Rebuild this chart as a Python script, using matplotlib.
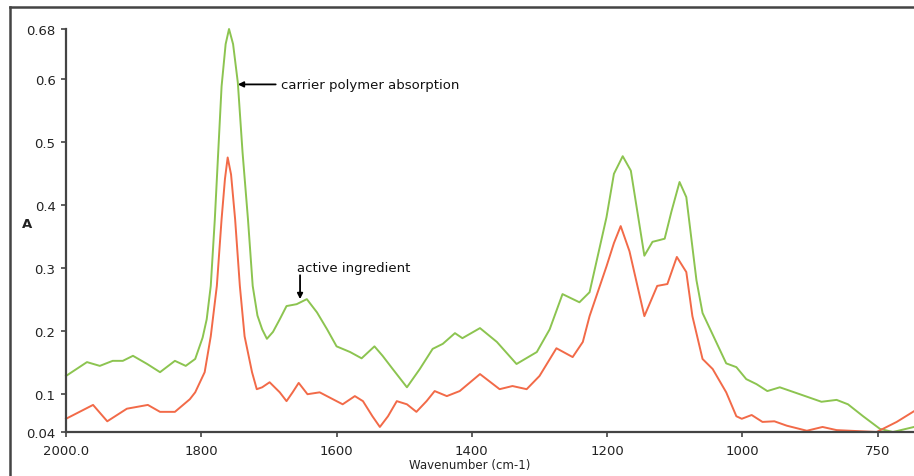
import numpy as np
import matplotlib
matplotlib.use("Agg")
import matplotlib.pyplot as plt
from matplotlib.lines import Line2D
from matplotlib.ticker import FixedLocator, NullLocator

plt.rcParams['font.family'] = ['DejaVu Sans']

# green trace (carrier + active)
green_wn = [2000, 1969, 1950, 1931, 1916, 1901, 1880, 1861, 1839, 1823, 1809,
            1798, 1792, 1786, 1780, 1775, 1770, 1764, 1759, 1753, 1746, 1739,
            1731, 1724, 1717, 1710, 1703, 1694, 1684, 1674, 1659, 1644, 1629,
            1614, 1600, 1580, 1563, 1544, 1532, 1517, 1496, 1477, 1458, 1443,
            1425, 1414, 1388, 1363, 1334, 1304, 1285, 1266, 1241, 1226, 1201,
            1190, 1177, 1165, 1145, 1133, 1122, 1115, 1105, 1093, 1083, 1068,
            1059, 1038, 1024, 1009, 993, 974, 954, 931, 894, 854, 826, 805, 777,
            746, 722, 683]
green_a = [0.129, 0.151, 0.145, 0.153, 0.153, 0.161, 0.148, 0.135, 0.153, 0.145,
           0.156, 0.190, 0.219, 0.272, 0.378, 0.484, 0.589, 0.656, 0.680, 0.656,
           0.595, 0.484, 0.378, 0.272, 0.225, 0.203, 0.188, 0.199, 0.219, 0.240,
           0.243, 0.251, 0.230, 0.203, 0.176, 0.167, 0.157, 0.176, 0.161, 0.140,
           0.111, 0.140, 0.172, 0.180, 0.197, 0.189, 0.205, 0.183, 0.148, 0.167,
           0.203, 0.259, 0.246, 0.262, 0.381, 0.450, 0.478, 0.455, 0.320, 0.342,
           0.345, 0.347, 0.390, 0.437, 0.413, 0.281, 0.229, 0.181, 0.149, 0.143,
           0.124, 0.116, 0.105, 0.111, 0.100, 0.088, 0.091, 0.084, 0.065, 0.045,
           0.040, 0.048]

# red trace
red_wn = [2000, 1960, 1939, 1910, 1879, 1861, 1839, 1817, 1809, 1795, 1786,
          1777, 1770, 1765, 1761, 1756, 1750, 1743, 1736, 1725, 1718, 1710,
          1699, 1684, 1674, 1665, 1656, 1643, 1625, 1600, 1591, 1573, 1561,
          1547, 1536, 1524, 1511, 1496, 1482, 1467, 1455, 1437, 1418, 1388,
          1359, 1340, 1319, 1300, 1275, 1251, 1236, 1226, 1201, 1190, 1180,
          1167, 1145, 1126, 1111, 1097, 1083, 1074, 1059, 1044, 1024, 1009,
          1001, 983, 963, 941, 918, 881, 852, 826, 752, 715, 683]
red_a = [0.061, 0.083, 0.057, 0.077, 0.083, 0.072, 0.072, 0.092, 0.103, 0.135,
         0.192, 0.272, 0.378, 0.442, 0.476, 0.449, 0.378, 0.272, 0.192, 0.135,
         0.108, 0.111, 0.119, 0.103, 0.089, 0.103, 0.118, 0.100, 0.103, 0.089,
         0.084, 0.097, 0.089, 0.065, 0.048, 0.065, 0.089, 0.084, 0.072, 0.089,
         0.105, 0.097, 0.105, 0.132, 0.108, 0.113, 0.108, 0.129, 0.173, 0.159,
         0.183, 0.224, 0.303, 0.340, 0.367, 0.327, 0.224, 0.272, 0.275, 0.318,
         0.294, 0.224, 0.156, 0.140, 0.103, 0.065, 0.061, 0.067, 0.056, 0.057,
         0.050, 0.042, 0.048, 0.043, 0.040, 0.056, 0.073]

x_ticks = [2000, 1800, 1600, 1400, 1200, 1000, 750]
x_labels = ['2000.0', '1800', '1600', '1400', '1200', '1000', '750']
y_ticks = [0.04, 0.1, 0.2, 0.3, 0.4, 0.5, 0.6, 0.68]
y_labels = ['0.04', '0.1', '0.2', '0.3', '0.4', '0.5', '0.6', '0.68']


# the x axis is compressed below 1000 cm-1
def fwd(w):
    w = np.asarray(w, dtype=float)
    return np.where(w >= 1000, w, 200 + 0.8 * w)


def inv(u):
    u = np.asarray(u, dtype=float)
    return np.where(u >= 1000, u, (u - 200) / 0.8)


fig = plt.figure(figsize=(9.14, 4.77), dpi=100)
ax = fig.add_axes([66 / 914, 1 - 433 / 477, 848 / 914, 403 / 477])
ax.set_xscale('function', functions=(fwd, inv))

ax.plot(green_wn, green_a, color='#8cc450', lw=1.4, clip_on=False,
        solid_joinstyle='round')
ax.plot(red_wn, red_a, color='#f26a48', lw=1.4, clip_on=False,
        solid_joinstyle='round')

ax.set_xlim(2000, 683)
ax.set_ylim(0.04, 0.68)

ax.xaxis.set_major_locator(FixedLocator(x_ticks))
ax.xaxis.set_minor_locator(NullLocator())
ax.set_xticklabels(x_labels)
ax.set_yticks(y_ticks)
ax.set_yticklabels(y_labels)
ax.yaxis.set_minor_locator(NullLocator())

for s in ['top', 'right']:
    ax.spines[s].set_visible(False)
for s in ['left', 'bottom']:
    ax.spines[s].set_color('#444444')
    ax.spines[s].set_linewidth(1.6)

ax.tick_params(axis='both', direction='out', length=3.5, width=1.2,
               color='#444444', labelsize=9.5, labelcolor='#222222')
ax.tick_params(axis='x', pad=5)
ax.tick_params(axis='y', pad=4)

ax.set_xlabel('Wavenumber (cm-1)', fontsize=8.5, color='#222222')
ax.xaxis.set_label_coords(0.476, -0.065)
ax.set_ylabel('A', fontsize=9.5, color='#222222', rotation=0, fontweight='bold')
ax.yaxis.set_label_coords(-0.046, 0.5)

# annotations
ax.annotate('', xy=(1746, 0.592), xytext=(1690, 0.592),
            arrowprops=dict(arrowstyle='-|>', color='black', lw=1.3,
                            mutation_scale=8, shrinkA=0, shrinkB=0))
ax.text(1682, 0.592, 'carrier polymer absorption', fontsize=9.5,
        ha='left', va='center', color='#111111')

ax.annotate('', xy=(1654, 0.251), xytext=(1654, 0.289),
            arrowprops=dict(arrowstyle='-|>', color='black', lw=1.3,
                            mutation_scale=8, shrinkA=0, shrinkB=0))
ax.text(1659, 0.302, 'active ingredient', fontsize=9.5,
        ha='left', va='center', color='#111111')

# outer frame of the original figure
fx = 10 / 914
fy = 1 - 8 / 477
fig.add_artist(Line2D([fx, 1], [fy, fy], transform=fig.transFigure,
                      color='#444444', lw=1.8))
fig.add_artist(Line2D([fx, fx], [0, fy], transform=fig.transFigure,
                      color='#444444', lw=1.8))

fig.savefig('out.png', dpi=100)
